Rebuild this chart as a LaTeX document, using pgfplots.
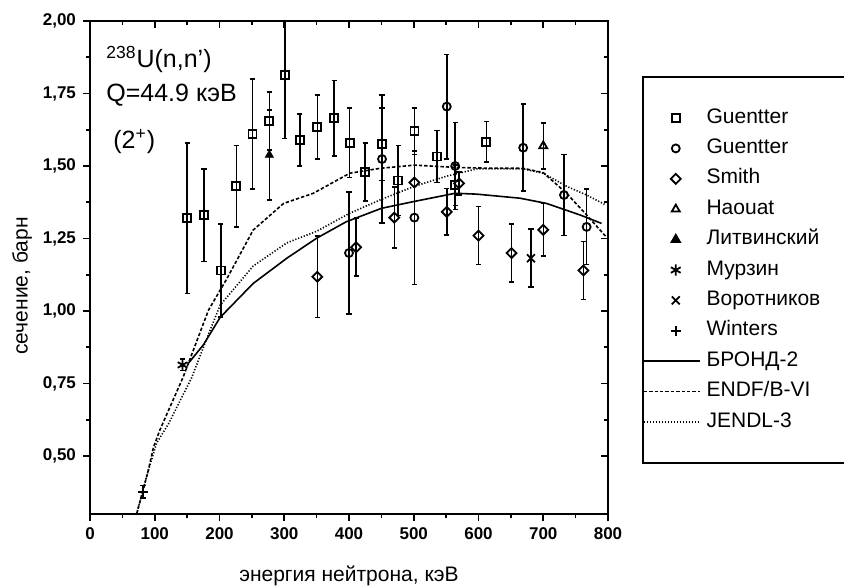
\documentclass[border=0pt]{standalone}
\usepackage{fontspec}
\setmainfont{Liberation Sans}
\usepackage{pgfplots}
\pgfplotsset{compat=1.18}

\pgfplotsset{
  frame/.style={
    scale only axis, width=259pt, height=246.5pt,
    at={(45pt,35.5pt)}, anchor=south west,
    xmin=0, xmax=800, ymin=0.30, ymax=2.00,
    xtick={0,100,...,800}, ytick={0.50,0.75,...,2.00},
    minor x tick num=1, minor y tick num=1,
    major tick length=3.5pt, minor tick length=2pt,
    axis line style={line width=1pt},
    every tick/.style={black, line width=0.8pt},
  },
  expt/.style={only marks, black,
    mark options={solid, line width=0.9pt, fill=white},
    error bars/y dir=both, error bars/y explicit,
    error bars/error bar style={line width=0.75pt, solid},
    error bars/error mark options={rotate=90, line width=0.75pt, mark size=1.3pt},
    legend image code/.code={\path[draw=none] (0pt,0pt) (28pt,0pt);
      \draw[##1] plot coordinates {(16pt,0pt)};}},
  theo/.style={black, no marks, line width=0.8pt,
    legend image code/.code={\draw[##1] (0pt,0pt) -- (28pt,0pt);}},
}
\newcommand{\legtxt}[1]{\makebox[72pt][l]{#1}}

\begin{document}
\begin{tikzpicture}
\path[use as bounding box] (0,0) rectangle (422pt,292.5pt);
\clip (0,0) rectangle (422pt,292.5pt);

% mirrored ticks on top and right, pointing in
\begin{axis}[frame, xtick pos=right, ytick pos=right, tick align=inside,
  xticklabels={}, yticklabels={}]
\end{axis}

\begin{axis}[frame, xtick pos=left, ytick pos=left, tick align=outside,
  xlabel={энергия нейтрона, кэВ}, ylabel={сечение, барн},
  label style={font=\fontsize{10.5}{12}\selectfont},
  x label style={at={(axis description cs:0.5,-0.136)}, anchor=base},
  y label style={at={(axis description cs:-0.131,0.4625)}, anchor=center},
  tick label style={font=\bfseries\fontsize{8.5}{10}\selectfont},
  /pgf/number format/assume math mode=true,
  yticklabel style={/pgf/number format/.cd, fixed, fixed zerofill, precision=2, use comma},
  xticklabel style={/pgf/number format/.cd, fixed, precision=0},
  legend style={at={(axis description cs:1.0656,0.8884)}, anchor=north west,
    draw=black, line width=1pt, inner xsep=0pt, inner ysep=15.5pt,
    row sep=5.2pt, column sep=3pt,
    font=\fontsize{10.5}{12}\selectfont,
    nodes={inner xsep=0pt, inner ysep=0pt, text height=7.5pt, text depth=2.5pt}},
  legend cell align=left,
]

% Guentter (squares)
\addplot[expt, mark=square, mark size=2pt] coordinates {
 (150,1.32) +- (0,0.26)
 (176,1.33) +- (0,0.16)
 (202,1.14) +- (0,0.16)
 (226,1.43) +- (0,0.14)
 (251,1.61) +- (0,0.19)
 (277,1.655) +- (0,0.10)
 (301,1.815) +- (0,0.22)
 (324,1.59) +- (0,0.09)
 (351,1.635) +- (0,0.11)
 (377,1.665) +- (0,0.13)
 (401,1.58) +- (0,0.12)
 (425,1.48) +- (0,0.10)
 (451,1.575) +- (0,0.125)
 (476,1.45) +- (0,0.12)
 (501,1.62) +- (0,0.08)
 (536,1.533) +- (0,0.09)
 (564,1.434) +- (0,0.07)
 (612,1.584) +- (0,0.07)
};
\addlegendentry{\legtxt{Guentter}}

% Guentter (circles)
\addplot[expt, mark=o, mark size=2pt] coordinates {
 (400,1.20) +- (0,0.21)
 (451,1.524) +- (0,0.22)
 (501,1.322) +- (0,0.23)
 (551,1.705) +- (0,0.18)
 (564,1.50) +- (0,0.15)
 (669,1.563) +- (0,0.15)
 (732,1.40) +- (0,0.14)
 (767,1.29) +- (0,0.13)
};
\addlegendentry{\legtxt{Guentter}}

% Smith (diamonds)
\addplot[expt, mark=square, mark size=1.75pt,
  mark options={solid, line width=0.9pt, fill=white, rotate=45}] coordinates {
 (351,1.118) +- (0,0.14)
 (411,1.22) +- (0,0.10)
 (470,1.322) +- (0,0.105)
 (501,1.443) +- (0,0.11)
 (551,1.342) +- (0,0.08)
 (570,1.44) +- (0,0.04)
 (600,1.26) +- (0,0.10)
 (651,1.20) +- (0,0.10)
 (700,1.28) +- (0,0.09)
 (762,1.14) +- (0,0.10)
};
\addlegendentry{\legtxt{Smith}}

% Haouat
\addplot[expt, mark=triangle, mark size=2.3pt] coordinates {
 (700,1.569) +- (0,0.08)
};
\addlegendentry{\legtxt{Haouat}}

% Litvinsky
\addplot[expt, mark=triangle*, mark size=2.3pt,
  mark options={solid, fill=black}] coordinates {
 (277,1.538) +- (0,0.155)
};
\addlegendentry{\legtxt{Литвинский}}

% Murzin
\addplot[expt, mark=asterisk, mark size=2.8pt] coordinates {
 (143,0.814) +- (0,0.02)
};
\addlegendentry{\legtxt{Мурзин}}

% Vorotnikov
\addplot[expt, mark=x, mark size=2.8pt] coordinates {
 (681,1.182) +- (0,0.10)
};
\addlegendentry{\legtxt{Воротников}}

% Winters
\addplot[expt, mark=+, mark size=2.4pt] coordinates {
 (82,0.377) +- (0,0.022)
};
\addlegendentry{\legtxt{Winters}}

% evaluations
\addplot[theo] coordinates {
 (152,0.82) (175,0.883) (201,0.978) (252,1.095) (304,1.182) (350,1.251)
 (396,1.308) (450,1.354) (499,1.377) (537,1.394) (564,1.406) (597,1.403)
 (664,1.389) (705,1.371) (757,1.331) (790,1.302)
};
\addlegendentry{\legtxt{БРОНД-2}}

\addplot[theo, dash pattern=on 1.7pt off 1pt] coordinates {
 (72,0.30) (90,0.45) (98,0.53) (108,0.59) (144,0.773) (183,1.003) (211,1.11)
 (252,1.279) (299,1.371) (345,1.406) (401,1.475) (448,1.492) (501,1.503)
 (566,1.495) (603,1.493) (669,1.492) (700,1.477) (736,1.406) (767,1.331)
 (797,1.256)
};
\addlegendentry{\legtxt{ENDF/B-VI}}

\addplot[theo, dash pattern=on 0.6pt off 0.9pt] coordinates {
 (72,0.30) (90,0.45) (103,0.545) (121,0.61) (157,0.77) (183,0.92) (201,1.02)
 (252,1.155) (304,1.235) (350,1.275) (401,1.337) (450,1.385) (501,1.43)
 (551,1.465) (597,1.49) (669,1.49) (700,1.475) (736,1.43) (767,1.40)
 (797,1.365)
};
\addlegendentry{\legtxt{JENDL-3}}

\node[anchor=base west, font=\fontsize{12.5}{14}\selectfont, inner sep=0pt]
  at (axis cs:24.7,1.841) {\textsuperscript{238}U(n,n')};
\node[anchor=base west, font=\fontsize{12.5}{14}\selectfont, inner sep=0pt]
  at (axis cs:24.7,1.721) {Q=44.9 кэВ};
\node[anchor=base west, font=\fontsize{12.5}{14}\selectfont, inner sep=0pt]
  at (axis cs:35.5,1.562) {(2\textsuperscript{+})};
\end{axis}
\end{tikzpicture}
\end{document}
